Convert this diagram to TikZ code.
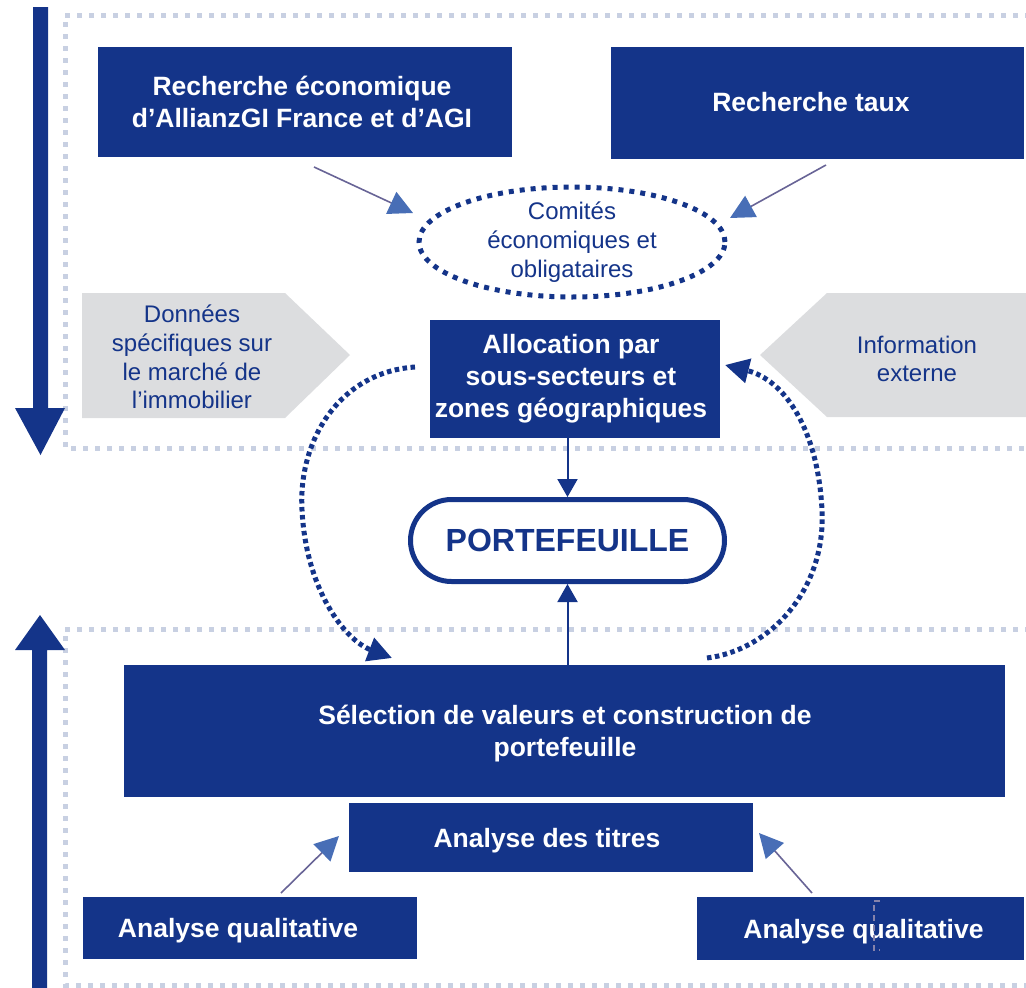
\documentclass[tikz,border=0pt]{standalone}
\usepackage{fontspec}
\setmainfont{Liberation Sans}
\usetikzlibrary{arrows.meta,shapes.geometric}

\definecolor{navy}{RGB}{20,52,137}
\definecolor{dotgray}{RGB}{200,208,226}
\definecolor{tabgray}{RGB}{220,221,223}
\definecolor{linepurple}{RGB}{104,100,150}
\definecolor{headblue}{RGB}{72,110,182}

\tikzset{
  bluebox/.style={fill=navy, text=white, align=center, inner sep=0pt,
    font=\bfseries\fontsize{26.5}{32}\selectfont},
  boxlabel/.style={bluebox, fill=none},
  plaintext/.style={text=navy, align=center, inner sep=0pt,
    font=\fontsize{24}{28.8}\selectfont},
  frameline/.style={draw=dotgray, line width=5pt, dash pattern=on 5pt off 7pt},
  thinarrow/.style={draw=linepurple, line width=1.6pt,
    -{Triangle[length=24pt,width=24pt,color=headblue]}},
  feedback/.style={draw=navy, line width=5pt, dash pattern=on 4.5pt off 3.5pt,
    -{Triangle[length=24pt,width=24pt]}},
  flowarrow/.style={draw=navy, line width=2pt, -{Triangle[length=18pt,width=20pt]}},
  tab/.style={fill=tabgray}
}

\begin{document}
\begin{tikzpicture}[x=1pt,y=-1pt]
\useasboundingbox (0,0) rectangle (1026,988);

% dotted group frames
\draw[frameline] (1030,15) -- (65,15) -- (65,448) -- (1030,448);
\draw[frameline] (1030,629) -- (65,629) -- (65,985) -- (1030,985);

% top-down and bottom-up side arrows
\fill[navy] (33,7) -- (48,7) -- (48,408) -- (65,408) -- (40.5,455) -- (15,408) -- (33,408) -- cycle;
\fill[navy] (32,988) -- (47,988) -- (47,650) -- (65,650) -- (40,615) -- (15,650) -- (32,650) -- cycle;

% research boxes
\node[bluebox, minimum width=414pt, minimum height=110pt] (reco) at (305,102) {};
\node[boxlabel] (recotext) at (302,102)
  {Recherche économique\\d’AllianzGI France et d’AGI};
\node[bluebox, minimum width=413pt, minimum height=112pt] (rtaux) at (817.5,103) {};
\node[boxlabel] (rtauxtext) at (811,102) {Recherche taux};

% committee ellipse
\node[ellipse, draw=navy, line width=5pt, dash pattern=on 5pt off 6pt,
  minimum width=306pt, minimum height=110pt, inner sep=0pt] (comites) at (572,242) {};
\node[plaintext] (comitestext) at (comites) {Comités\\économiques et\\obligataires};

\coordinate (recoout) at (314,167);
\coordinate (comin1) at (413,213);
\coordinate (tauxout) at (826,165);
\coordinate (comin2) at (730,218);
\draw[thinarrow] (recoout) -- (comin1);
\draw[thinarrow] (tauxout) -- (comin2);

% side inputs
\fill[tab] (82,293) -- (285,293) -- (350,355) -- (285,418) -- (82,418) -- cycle;
\node[plaintext] (donnees) at (192,357)
  {Données\\spécifiques sur\\le marché de\\l’immobilier};
\fill[tab] (1026,293) -- (827,293) -- (760,355) -- (827,417) -- (1026,417) -- cycle;
\node[plaintext] (info) at (917,359) {Information\\externe};

% allocation
\node[bluebox, minimum width=290pt, minimum height=118pt] (alloc) at (575,379) {};
\node[boxlabel] (alloctext) at (571,379)
  {Allocation par\\sous-secteurs et\\zones géographiques};

% portfolio
\node[draw=navy, line width=5pt, fill=white, rounded corners=41pt,
  minimum width=314pt, minimum height=82pt, inner sep=0pt, text=navy,
  font=\bfseries\fontsize{32}{36}\selectfont] (port) at (567.5,540.5) {PORTEFEUILLE};

% selection and analysis
\node[bluebox, minimum width=881pt, minimum height=132pt] (select) at (564.5,731) {};
\node[boxlabel] (selecttext) at (565,734)
  {Sélection de valeurs et construction de\\portefeuille};
\node[bluebox, minimum width=404pt, minimum height=69pt] (titres) at (551,837.5) {};
\node[boxlabel] (titrestext) at (547,841) {Analyse des titres};
\node[bluebox, minimum width=334pt, minimum height=62pt] (aqleft) at (250,928) {};
\node[boxlabel] (aqlefttext) at (238,931) {Analyse qualitative};
\node[bluebox, minimum width=327pt, minimum height=63pt] (aqright) at (860.5,928.5) {};
\node[boxlabel] (aqrighttext) at (863.5,931.5) {Analyse qualitative};

\draw[flowarrow] (port.north |- alloc.south) -- (port.north);
\draw[flowarrow] (port.south |- select.north) -- (port.south);

\coordinate (aqlout) at (281,893);
\coordinate (titin1) at (339,836);
\coordinate (aqrout) at (812,893);
\coordinate (titin2) at (759,833);
\draw[thinarrow] (aqlout) -- (titin1);
\draw[thinarrow] (aqrout) -- (titin2);

% feedback loops between allocation and selection
\coordinate (allocleft) at (415,367);
\coordinate (selin) at (392,658);
\coordinate (selout) at (707,658);
\coordinate (allocright) at (725,365);
\draw[feedback] (allocleft) .. controls (340,372) and (298,440) .. (302,510)
  .. controls (306,590) and (345,640) .. (selin);
\draw[feedback] (selout) .. controls (770,650) and (826,590) .. (822,510)
  .. controls (818,430) and (785,380) .. (allocright);

% small dashed bracket mark
\draw[draw=linepurple!80, line width=1.5pt, dash pattern=on 6pt off 4pt]
  (880,901) -- (874,901) -- (874,950) -- (880,950);
\end{tikzpicture}
\end{document}
